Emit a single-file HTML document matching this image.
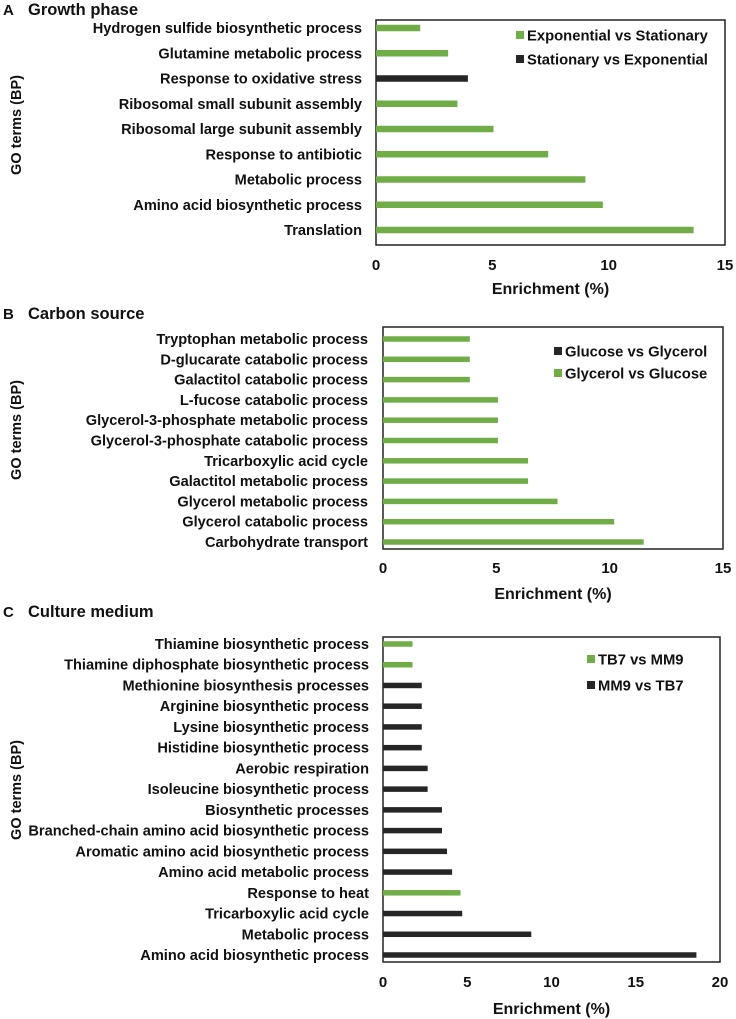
<!DOCTYPE html>
<html><head><meta charset="utf-8">
<style>
html,body{margin:0;padding:0;background:#fff;}
svg{display:block;font-family:"Liberation Sans",sans-serif;font-weight:bold;}
</style></head>
<body>
<svg id="fig" width="736" height="1019" viewBox="0 0 736 1019"></svg>
<script>
const GREEN = "#70ad47", DARK = "#262626";
// Panel A data
const catsA = ["Hydrogen sulfide biosynthetic process","Glutamine metabolic process","Response to oxidative stress","Ribosomal small subunit assembly","Ribosomal large subunit assembly","Response to antibiotic","Metabolic process","Amino acid biosynthetic process","Translation"];
const valsA = [1.9,3.1,3.95,3.5,5.05,7.4,9.0,9.75,13.65];
const serA = [0,0,1,0,0,0,0,0,0];
const legendA = ["Exponential vs Stationary","Stationary vs Exponential"];
const ticksA = [0,5,10,15];
// Panel B data
const catsB = ["Tryptophan metabolic process","D-glucarate catabolic process","Galactitol catabolic process","L-fucose catabolic process","Glycerol-3-phosphate metabolic process","Glycerol-3-phosphate catabolic process","Tricarboxylic acid cycle","Galactitol metabolic process","Glycerol metabolic process","Glycerol catabolic process","Carbohydrate transport"];
const valsB = [3.83,3.83,3.83,5.07,5.07,5.07,6.4,6.4,7.7,10.2,11.5];
const serB = [1,1,1,1,1,1,1,1,1,1,1];
const legendB = ["Glucose vs Glycerol","Glycerol vs Glucose"];
const ticksB = [0,5,10,15];
// Panel C data
const catsC = ["Thiamine biosynthetic process","Thiamine diphosphate biosynthetic process","Methionine biosynthesis processes","Arginine biosynthetic process","Lysine biosynthetic process","Histidine biosynthetic process","Aerobic respiration","Isoleucine biosynthetic process","Biosynthetic processes","Branched-chain amino acid biosynthetic process","Aromatic amino acid biosynthetic process","Amino acid metabolic process","Response to heat","Tricarboxylic acid cycle","Metabolic process","Amino acid biosynthetic process"];
const valsC = [1.75,1.75,2.3,2.3,2.3,2.3,2.65,2.65,3.5,3.5,3.8,4.1,4.6,4.7,8.8,18.6];
const serC = [0,0,1,1,1,1,1,1,1,1,1,1,0,1,1,1];
const legendC = ["TB7 vs MM9","MM9 vs TB7"];
const ticksC = [0,5,10,15,20];

const NS = "http://www.w3.org/2000/svg";
const svg = document.getElementById("fig");
function mk(tag, attrs, parent, text){
  const e = document.createElementNS(NS, tag);
  for (const k in attrs) e.setAttribute(k, attrs[k]);
  if (text !== undefined) e.textContent = text;
  (parent||svg).appendChild(e);
  return e;
}
function panel(p){
  const g = mk("g", {});
  
  
  const hl = mk("text", {x:3, y:p.headY, "font-size":15, fill:"#111"}, g, p.letter);
  
  
  const h = mk("text", {x:28, y:p.headY, "font-size":16.5, fill:"#111"}, g, p.title);
  
  
  const yt = mk("text", {x:0, y:0, "font-size":14.5, fill:"#111", "text-anchor":"middle", transform:"translate(21," + p.yTitle + ") rotate(-90)"}, g, "GO terms (BP)");
  
  
  const xmax = p.ticks[p.ticks.length-1];
  const xs = v => p.x0 + (v / xmax) * (p.x1 - p.x0);
  const n = p.cats.length;
  const ys = i => p.yFirst + i * (p.yLast - p.yFirst) / (n - 1);
  const box = mk("rect", {x:p.x0, y:p.top, width:p.x1-p.x0, height:p.bottom-p.top, fill:"none", stroke:"#222", "stroke-width":1.5}, g);
  
  
  for (let i = 0; i < n; i++){
    const lab = mk("text", {x:p.labX, y:ys(i)+5, "font-size":14.6, fill:"#111", "text-anchor":"end"}, g, p.cats[i]);
    
    
    const bar = mk("rect", {x:p.x0, y:ys(i)-p.bh/2, width:xs(p.vals[i])-p.x0, height:p.bh, fill:p.colors[p.ser[i]]}, g);
    
    
  }
  for (const t of p.ticks){
    const tl = mk("text", {x:xs(t), y:p.tickY, "font-size":15, fill:"#111", "text-anchor":"middle"}, g, String(t));
    
    
  }
  const xt = mk("text", {x:(p.x0+p.x1)/2, y:p.xTitleY, "font-size":16, fill:"#111", "text-anchor":"middle"}, g, "Enrichment (%)");
  
  
  for (let j = 0; j < p.legend.length; j++){
    const ly = p.legY + j * p.legDy;
    const sw = mk("rect", {x:p.legX, y:ly-4, width:8, height:8, fill:p.colors[j]}, g);
    
    
    const lt = mk("text", {x:p.legX+11, y:ly+5.5, "font-size":14.8, fill:"#111"}, g, p.legend[j]);
    
    
  }
}
panel({id:"a", letter:"A", title:"Growth phase", headY:15, yTitle:125, cats:catsA, vals:valsA, ser:serA, ticks:ticksA,
  x0:376, x1:725, top:20, bottom:245, yFirst:28, yLast:230, bh:6.5, labX:362, tickY:270, xTitleY:294,
  legend:legendA, colors:[GREEN, DARK], legX:516, legY:35, legDy:24});
panel({id:"b", letter:"B", title:"Carbon source", headY:319, yTitle:430, cats:catsB, vals:valsB, ser:serB, ticks:ticksB,
  x0:383, x1:723, top:327, bottom:549, yFirst:339, yLast:542, bh:5.5, labX:368, tickY:573, xTitleY:599,
  legend:legendB, colors:[DARK, GREEN], legX:554, legY:351, legDy:22});
panel({id:"c", letter:"C", title:"Culture medium", headY:617, yTitle:790, cats:catsC, vals:valsC, ser:serC, ticks:ticksC,
  x0:383, x1:720, top:637, bottom:962, yFirst:644, yLast:955, bh:5.5, labX:369, tickY:987, xTitleY:1014,
  legend:legendC, colors:[GREEN, DARK], legX:587, legY:659, legDy:26});
</script>
</body></html>
